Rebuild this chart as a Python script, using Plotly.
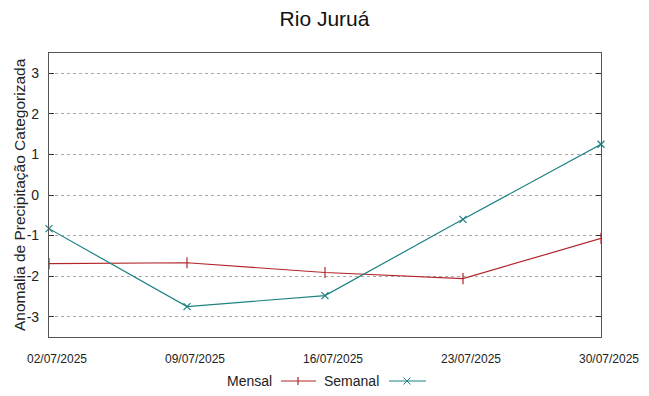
import plotly.graph_objects as go

dates = ["02/07/2025", "09/07/2025", "16/07/2025", "23/07/2025", "30/07/2025"]
mensal = [-1.69, -1.67, -1.91, -2.06, -1.07]
semanal = [-0.83, -2.75, -2.48, -0.60, 1.25]
y_ticks = [-3, -2, -1, 0, 1, 2, 3]
y_tick_text = ["-3", "-2", "-1", "0", "1", "2", "3"]

red = "#b3262b"
teal = "#1d8282"
font = "Liberation Sans, Arial, sans-serif"

fig = go.Figure()
fig.add_trace(go.Scatter(x=dates, y=mensal, mode="lines+markers", name="Mensal",
                         line=dict(color=red, width=1.2),
                         marker=dict(symbol="line-ns", size=8, line=dict(color=red, width=1.2)),
                         cliponaxis=False))
fig.add_trace(go.Scatter(x=dates, y=semanal, mode="lines+markers", name="Semanal",
                         line=dict(color=teal, width=1.2),
                         marker=dict(symbol="x-thin", size=7, line=dict(color=teal, width=1.2)),
                         cliponaxis=False))

fig.update_layout(
    width=649, height=396,
    margin=dict(l=49, r=48, t=53, b=59, autoexpand=False),
    paper_bgcolor="white", plot_bgcolor="white",
    font=dict(family=font, color="#222222"),
    showlegend=False,
    title=dict(text="Rio Juruá", x=0.5, xanchor="center", y=0.952, yanchor="middle",
               font=dict(size=21, family=font, color="#111111")),
)
fig.update_xaxes(type="category", range=[0, 4], showgrid=False, zeroline=False, automargin=False,
                 showline=True, linecolor="#555555", linewidth=1.2, mirror=True,
                 ticks="", ticklabelstandoff=10, ticklabelshift=8,
                 tickfont=dict(size=12, family=font, color="#222222"))
fig.update_yaxes(range=[-3.5, 3.5], tickvals=y_ticks, ticktext=y_tick_text,
                 showgrid=True, gridcolor="#aaaaaa",
                 griddash="dot", gridwidth=1, zeroline=False, automargin=False,
                 showline=True, linecolor="#555555", linewidth=1.2, mirror="ticks",
                 ticks="inside", ticklen=5, tickcolor="#333333", ticklabelstandoff=6,
                 tickfont=dict(size=14, family=font, color="#222222"))

# y-axis title
fig.add_annotation(xref="paper", yref="paper", x=(19 - 49) / 552, y=0.5,
                   text="Anomalia de Precipitação Categorizada", textangle=-90,
                   showarrow=False, xanchor="center", yanchor="middle",
                   font=dict(size=15.5, family=font, color="#222222"))

# manual legend (gnuplot style: text then sample)
ly = -0.155
fig.add_annotation(xref="paper", yref="paper", x=(274 - 49) / 552, y=ly, text="Mensal",
                   showarrow=False, xanchor="right", yanchor="middle",
                   font=dict(size=14, family=font, color="#222222"))
fig.add_shape(type="line", xref="paper", yref="paper", x0=(281 - 49) / 552, x1=(316 - 49) / 552,
              y0=ly, y1=ly, line=dict(color=red, width=1.2))
fig.add_shape(type="line", xref="paper", yref="paper", x0=(298 - 49) / 552, x1=(298 - 49) / 552,
              y0=ly - 0.014, y1=ly + 0.014, line=dict(color=red, width=1.2))
fig.add_annotation(xref="paper", yref="paper", x=(381 - 49) / 552, y=ly, text="Semanal",
                   showarrow=False, xanchor="right", yanchor="middle",
                   font=dict(size=14, family=font, color="#222222"))
fig.add_shape(type="line", xref="paper", yref="paper", x0=(389 - 49) / 552, x1=(426 - 49) / 552,
              y0=ly, y1=ly, line=dict(color=teal, width=1.2))
for dx, dy in [(1, 1), (1, -1)]:
    fig.add_shape(type="line", xref="paper", yref="paper",
                  x0=(407 - 49 - 3.5 * dx) / 552, x1=(407 - 49 + 3.5 * dx) / 552,
                  y0=ly - 3.5 * dy / 284, y1=ly + 3.5 * dy / 284, line=dict(color=teal, width=1))

fig.write_html("out.html", config={"displayModeBar": False},
               post_script="document.body.style.margin='0';document.body.style.overflow='hidden';")
